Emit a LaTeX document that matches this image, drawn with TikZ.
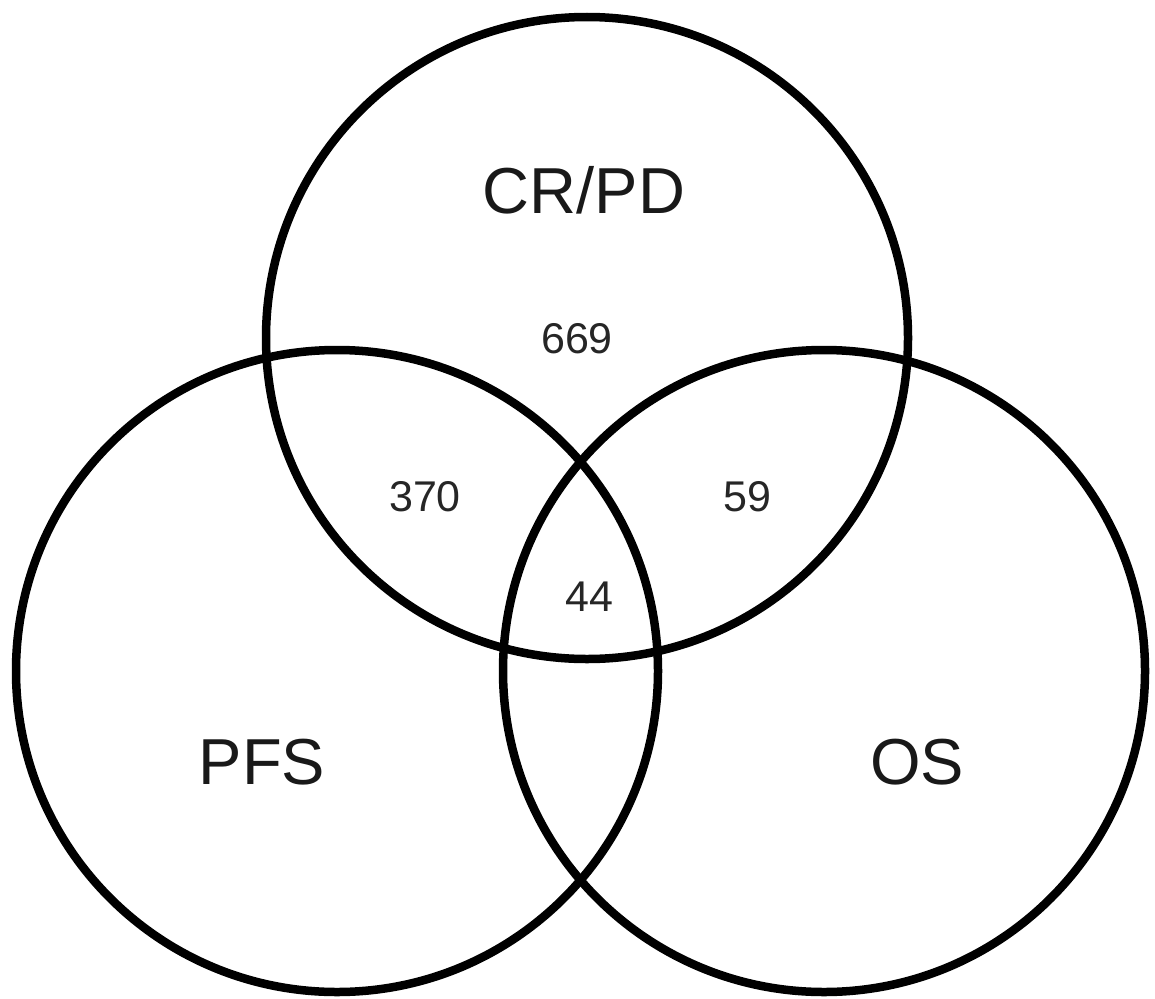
\documentclass[tikz,border=0pt]{standalone}
\usepackage{fontspec}
\setmainfont{Liberation Sans}
\begin{document}
\begin{tikzpicture}[x=1pt,y=-1pt,
  ring/.style={draw=black,line width=8.5pt},
  biglabel/.style={font=\fontsize{65}{70}\selectfont,text=black!90},
  numlabel/.style={font=\fontsize{43}{48}\selectfont,text=black!85}]
\useasboundingbox[fill=white] (0,0) rectangle (1155,998);
\draw[ring] (587,338) circle[radius=321];
\draw[ring] (337,671) circle[radius=321];
\draw[ring] (824,671) circle[radius=321];
\node[biglabel] (crpd) at (584,190) {CR/PD};
\node[biglabel] (pfs) at (262,762) {PFS};
\node[biglabel] (os) at (917,762) {OS};
\node[numlabel] (n669) at (577,339) {669};
\node[numlabel] (n370) at (425,497) {370};
\node[numlabel] (n59) at (747,497) {59};
\node[numlabel] (n44) at (589,597) {44};
\end{tikzpicture}
\end{document}
